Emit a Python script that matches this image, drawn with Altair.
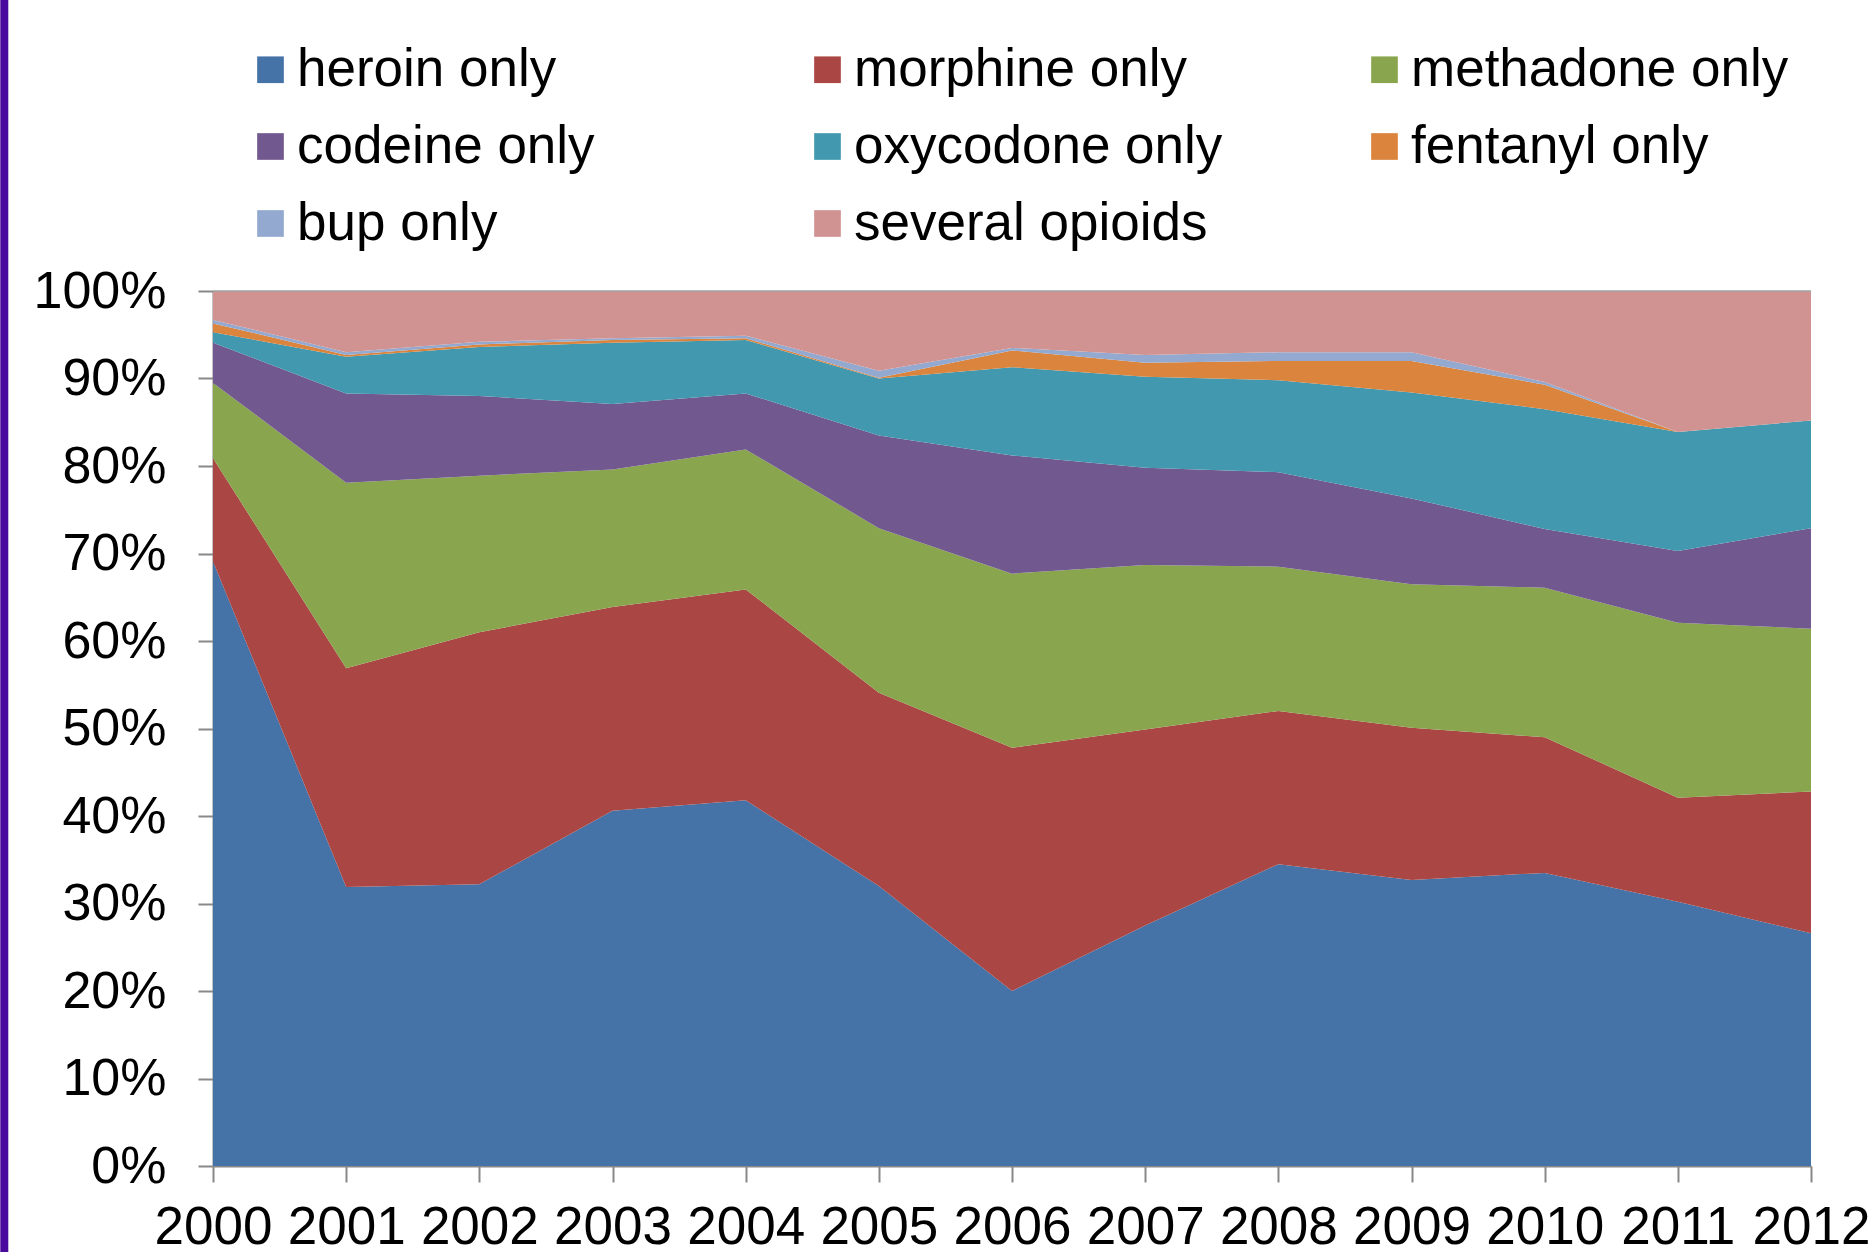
import altair as alt
import pandas as pd

years = list(range(2000, 2013))
series = ["heroin only", "morphine only", "methadone only", "codeine only",
          "oxycodone only", "fentanyl only", "bup only", "several opioids"]
colors = ["#4572A7", "#AA4643", "#89A54E", "#71588F",
          "#4198AF", "#DB843D", "#93A9CF", "#D19392"]

heroin = [69.1, 31.9, 32.2, 40.6, 41.8, 32.0, 20.0, 27.5, 34.5, 32.7, 33.5, 30.2, 26.6]
morphine = [11.8, 25.0, 28.8, 23.3, 24.1, 22.1, 27.8, 22.4, 17.5, 17.4, 15.5, 11.9, 16.2]
methadone = [8.6, 21.2, 17.9, 15.7, 16.0, 18.8, 19.9, 18.8, 16.5, 16.4, 17.1, 20.0, 18.6]
codeine = [4.6, 10.2, 9.1, 7.5, 6.4, 10.6, 13.5, 11.1, 10.8, 9.8, 6.7, 8.2, 11.5]
oxycodone = [1.2, 4.2, 5.6, 7.0, 6.1, 6.5, 10.1, 10.4, 10.5, 12.1, 13.7, 13.6, 12.3]
fentanyl = [1.0, 0.2, 0.3, 0.3, 0.2, 0.1, 1.9, 1.6, 2.2, 3.6, 2.8, 0.0, 0.0]
bup = [0.4, 0.3, 0.3, 0.2, 0.3, 0.8, 0.3, 0.9, 1.0, 1.0, 0.3, 0.0, 0.0]
several = [3.3, 7.0, 5.8, 5.4, 5.1, 9.1, 6.5, 7.3, 7.0, 7.0, 10.4, 16.1, 14.8]

all_values = [heroin, morphine, methadone, codeine, oxycodone, fentanyl, bup, several]

rows = []
for i, (name, vals) in enumerate(zip(series, all_values)):
    for y, v in zip(years, vals):
        rows.append({"year": y, "series": name, "order": i, "value": v})
df = pd.DataFrame(rows)

FONT = "Liberation Sans"
AXIS_GRAY = "#888888"

areas = alt.Chart(df).mark_area(opacity=1).encode(
    x=alt.X("year:Q",
            scale=alt.Scale(domain=[2000, 2012], nice=False, zero=False),
            axis=alt.Axis(values=years, format="d", title=None, grid=False,
                          labelFontSize=53, labelFont=FONT, labelColor="black",
                          tickSize=16, tickWidth=2, tickColor=AXIS_GRAY,
                          domainColor=AXIS_GRAY, domainWidth=2,
                          labelPadding=19, labelFlush=False)),
    y=alt.Y("value:Q", stack="zero",
            scale=alt.Scale(domain=[0, 100], nice=False),
            axis=alt.Axis(values=list(range(0, 101, 10)), title=None, grid=False,
                          labelExpr="datum.value + '%'",
                          labelFontSize=52, labelFont=FONT, labelColor="black",
                          tickSize=15, tickWidth=2, tickColor=AXIS_GRAY,
                          domainColor=AXIS_GRAY, domainWidth=2,
                          labelPadding=32)),
    color=alt.Color("series:N",
                    scale=alt.Scale(domain=series, range=colors),
                    legend=alt.Legend(orient="none", legendX=31, legendY=-248,
                                      direction="horizontal",
                                      columns=3, title=None, padding=0,
                                      symbolType="square", symbolSize=711,
                                      symbolStrokeWidth=0, symbolOpacity=1,
                                      labelFontSize=53, labelFont=FONT,
                                      labelColor="black", labelOffset=0,
                                      columnPadding=126, rowPadding=23,
                                      gridAlign="all", labelLimit=600)),
    order=alt.Order("order:Q", sort="ascending"),
)

top_rule = alt.Chart(pd.DataFrame({"v": [100]})).mark_rule(
    color="#a0a0a0", strokeWidth=1.5).encode(y="v:Q")

side_bar = alt.Chart(pd.DataFrame({"a": [0]})).mark_rect(color="#4B0A9E").encode(
    x=alt.value(-212.7), x2=alt.value(-204.7),
    y=alt.value(-291), y2=alt.value(961))

chart = alt.layer(side_bar, areas, top_rule).properties(
    width=1598, height=875, padding=0, background="white"
).configure_view(stroke=None)

chart.save("out.html", embed_options={"renderer": "svg", "actions": False})
